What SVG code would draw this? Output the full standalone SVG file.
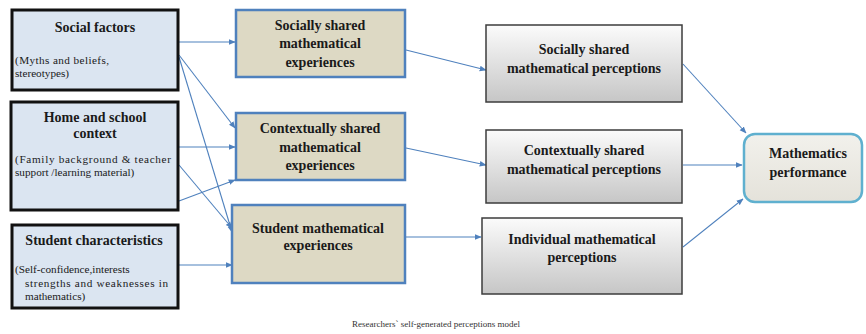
<svg xmlns="http://www.w3.org/2000/svg" width="866" height="334" viewBox="0 0 866 334">
  <defs>
    <linearGradient id="grayFill" x1="0" y1="0" x2="0" y2="1">
      <stop offset="0" stop-color="#fbfbfb"/>
      <stop offset="1" stop-color="#c6c6c6"/>
    </linearGradient>
    <linearGradient id="perfFill" x1="0" y1="0" x2="0" y2="1">
      <stop offset="0" stop-color="#f2f1ec"/>
      <stop offset="1" stop-color="#e4e2da"/>
    </linearGradient>
    <marker id="arrow" viewBox="0 0 10 10" refX="9" refY="5" markerWidth="7" markerHeight="7" orient="auto" markerUnits="userSpaceOnUse">
      <path d="M0,1 L10,5 L0,9 z" fill="#4f81bd"/>
    </marker>
  </defs>
  <style>
    .factor { fill: #dbe5f1; stroke: #111; stroke-width: 3; }
    .exp { fill: #ddd9c4; stroke: #4f81bd; stroke-width: 2.5; }
    .perc { fill: url(#grayFill); stroke: #3c3c3c; stroke-width: 1.5; }
    .perf { fill: url(#perfFill); stroke: #5fb0cf; stroke-width: 2.5; }
    .title { font-weight: bold; font-size: 14px; text-anchor: middle; }
    .sub { font-size: 11.2px; }
    .caption { font-size: 9px; text-anchor: middle; fill: #333; }
    .conn line { stroke: #4f81bd; stroke-width: 1.1; marker-end: url(#arrow); }
  </style>
  <rect width="866" height="334" fill="#ffffff"/>

  <!-- connectors -->
  <g id="connectors" class="conn">
    <line x1="179" y1="42" x2="235" y2="42"/>
    <line x1="179" y1="55" x2="235" y2="128"/>
    <line x1="179" y1="57" x2="232" y2="232"/>
    <line x1="179" y1="147" x2="235" y2="147"/>
    <line x1="179" y1="165" x2="232" y2="228"/>
    <line x1="179" y1="201" x2="235" y2="180"/>
    <line x1="179" y1="265" x2="232" y2="265"/>
    <line x1="406" y1="50" x2="486" y2="70"/>
    <line x1="406" y1="148" x2="486" y2="165"/>
    <line x1="406" y1="237" x2="481" y2="237"/>
    <line x1="683" y1="64" x2="746" y2="133"/>
    <line x1="683" y1="165" x2="742" y2="165"/>
    <line x1="683" y1="247" x2="743" y2="199"/>
  </g>

  <g font-family="'Liberation Serif', 'DejaVu Serif', serif" fill="#1a1a1a">
  <!-- factor nodes -->
  <g id="social-factors">
    <rect class="factor" x="12" y="10" width="166" height="80"/>
    <text class="title" x="95" y="32">Social factors</text>
    <text class="sub" x="15" y="64" textLength="94" lengthAdjust="spacing">(Myths and beliefs,</text>
    <text class="sub" x="15" y="77">stereotypes)</text>
  </g>
  <g id="home-school">
    <rect class="factor" x="11" y="102" width="167" height="108"/>
    <text class="title" x="95" y="122">Home and school</text>
    <text class="title" x="95" y="138">context</text>
    <text class="sub" x="15" y="163" textLength="156" lengthAdjust="spacing">(Family background &amp; teacher</text>
    <text class="sub" x="15" y="176">support /learning material)</text>
  </g>
  <g id="student-characteristics">
    <rect class="factor" x="12" y="225" width="166" height="83"/>
    <text class="title" x="94" y="245">Student characteristics</text>
    <text class="sub" x="15" y="273">(Self-confidence,interests</text>
    <text class="sub" x="25" y="287" textLength="143" lengthAdjust="spacing">strengths and weaknesses in</text>
    <text class="sub" x="25" y="300">mathematics)</text>
  </g>

  <!-- experience nodes -->
  <g id="socially-shared-experiences">
    <rect class="exp" x="236" y="10" width="169" height="67"/>
    <text class="title" x="320" y="30">Socially shared</text>
    <text class="title" x="320" y="48">mathematical</text>
    <text class="title" x="320" y="67">experiences</text>
  </g>
  <g id="contextually-shared-experiences">
    <rect class="exp" x="236" y="113" width="169" height="67"/>
    <text class="title" x="320" y="133">Contextually shared</text>
    <text class="title" x="320" y="152">mathematical</text>
    <text class="title" x="320" y="170">experiences</text>
  </g>
  <g id="student-experiences">
    <rect class="exp" x="232" y="205" width="173" height="78"/>
    <text class="title" x="318" y="233">Student mathematical</text>
    <text class="title" x="318" y="250">experiences</text>
  </g>

  <!-- perception nodes -->
  <g id="socially-shared-perceptions">
    <rect class="perc" x="486" y="25" width="196" height="77"/>
    <text class="title" x="584" y="54">Socially shared</text>
    <text class="title" x="584" y="73">mathematical perceptions</text>
  </g>
  <g id="contextually-shared-perceptions">
    <rect class="perc" x="486" y="130" width="196" height="73"/>
    <text class="title" x="584" y="155">Contextually shared</text>
    <text class="title" x="584" y="174">mathematical perceptions</text>
  </g>
  <g id="individual-perceptions">
    <rect class="perc" x="482" y="218" width="200" height="76"/>
    <text class="title" x="582" y="244">Individual mathematical</text>
    <text class="title" x="582" y="262">perceptions</text>
  </g>

  <!-- outcome node -->
  <g id="mathematics-performance">
    <rect class="perf" x="744" y="134" width="118" height="68" rx="11" ry="11"/>
    <text class="title" x="808" y="158">Mathematics</text>
    <text class="title" x="808" y="177">performance</text>
  </g>

  <text class="caption" x="436" y="327">Researchers` self-generated perceptions model</text>
  </g>
</svg>
